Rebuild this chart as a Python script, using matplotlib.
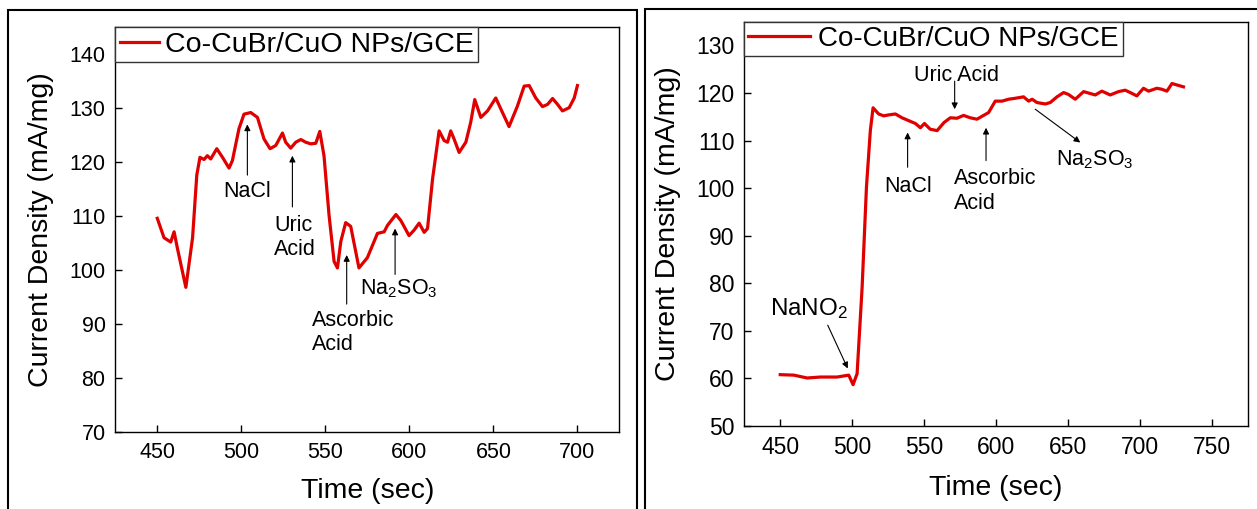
import matplotlib
matplotlib.use('Agg')
import matplotlib.pyplot as plt
from matplotlib.patches import Rectangle

plt.rcParams['font.family'] = ['Liberation Sans', 'DejaVu Sans']
plt.rcParams['mathtext.fontset'] = 'custom'
plt.rcParams['mathtext.rm'] = 'Liberation Sans'
plt.rcParams['mathtext.default'] = 'regular'

# Left panel: interference test (time in sec, current density in mA/mg)
left_t = [450, 454, 458, 460, 462, 467, 471, 473.5, 475.4, 477.8, 479.8, 481.8, 485.4, 488.8,
          492.7, 494.7, 498.6, 501.6, 505.6, 509.6, 513.5, 517.1, 520.5, 524.5, 526.4, 529.4,
          532.4, 535.4, 538.3, 541.3, 544.3, 546.7, 549.2, 552.2, 555.2, 557.2, 559.2, 562.1,
          565.1, 570, 575, 581, 585, 587, 592, 594.9, 599.8, 602.8, 605.8, 608.8, 610.8, 613.8,
          617.7, 620.7, 622.7, 624.6, 626.6, 629.6, 633.6, 636.5, 638.9, 642.5, 646.5, 651.4,
          655.4, 659.3, 664.3, 668.3, 671.3, 675.2, 679.2, 682.2, 685.2, 688.2, 691.1, 695.1,
          698.1, 700]
left_j = [109.6, 106, 105.2, 107.1, 104, 96.8, 106, 117.6, 120.9, 120.5, 121.2, 120.6, 122.5,
          120.9, 118.9, 120.3, 126.2, 128.9, 129.2, 128.3, 124.3, 122.5, 123.1, 125.4, 123.7,
          122.6, 123.7, 124.2, 123.7, 123.4, 123.5, 125.7, 121.2, 110.2, 101.6, 100.4, 105.3,
          108.8, 108.1, 100.4, 102.3, 106.8, 107.1, 108.3, 110.3, 109.2, 106.4, 107.4, 108.7,
          107, 107.7, 116.9, 125.8, 124, 123.7, 125.8, 124.3, 121.8, 123.7, 127.4, 131.6, 128.3,
          129.5, 131.9, 129.2, 126.6, 130.4, 134.1, 134.2, 131.9, 130.3, 130.7, 131.8, 130.7,
          129.5, 130.1, 131.9, 134.2]

# Right panel: NaNO2 addition followed by interferents
right_t = [450, 459.4, 468.7, 477.9, 489.5, 497.6, 500.6, 503.4, 506.9, 509.9, 512.6, 514.5,
           518.4, 521.9, 525.3, 530, 534.6, 539.2, 543.9, 547.4, 550.2, 554.2, 559, 563.8, 568.2,
           572.8, 577.4, 582, 586.7, 591.3, 594.8, 599.4, 604.1, 608.7, 613.3, 619.1, 622.6, 625,
           628.4, 634.2, 637.6, 642.3, 646.9, 650.3, 655, 660.8, 665.4, 668.9, 673.5, 679.3,
           685.1, 689.7, 693.2, 697.8, 702.4, 705.9, 711.7, 715.1, 718.7, 722.2, 725.6, 730.2]
right_j = [60.8, 60.7, 60.1, 60.3, 60.3, 60.7, 58.7, 61, 79.2, 100.2, 112.1, 116.9,
           115.6, 115.2, 115.4, 115.6, 114.8, 114.2, 113.6, 112.7, 113.6, 112.4, 112.1, 113.8,
           114.8, 114.7, 115.3, 114.8, 114.5, 115.3, 115.9, 118.3, 118.3, 118.7, 118.9, 119.2,
           118.3, 118.7, 118, 117.7, 118, 119.2, 120.1, 119.7, 118.7, 120.3, 119.9, 119.6, 120.4,
           119.6, 120.3, 120.6, 120.1, 119.4, 121, 120.4, 121, 120.8, 120.4, 122, 121.7, 121.3]

label = 'Co-CuBr/CuO NPs/GCE'
red = '#e00000'

fig = plt.figure(figsize=(12.57, 5.09), dpi=100)

# outer panel frames
fig.patches.append(Rectangle((8 / 1257, -0.1), 629 / 1257, 1.1 - 10 / 509, transform=fig.transFigure,
                             fill=False, ec='black', lw=1.5))
fig.patches.append(Rectangle((645 / 1257, -0.1), 0.5, 1.1 - 9 / 509, transform=fig.transFigure,
                             fill=False, ec='black', lw=1.5))

ax1 = fig.add_axes([0.0917, 0.1513, 0.4011, 0.7951])
ax2 = fig.add_axes([0.5921, 0.163, 0.4007, 0.7944])

ax1.plot(left_t, left_j, color=red, lw=2.3, label=label)
ax2.plot(right_t, right_j, color=red, lw=2.3, label=label)

ax1.set_xlim(425, 725)
ax1.set_ylim(70, 145)
ax1.set_xticks(range(450, 701, 50))
ax1.set_yticks(range(70, 141, 10))
ax2.set_xlim(425, 775)
ax2.set_ylim(50, 135)
ax2.set_xticks(range(450, 751, 50))
ax2.set_yticks(range(50, 131, 10))

for ax, fs, xpad in ((ax1, 15.5, 11), (ax2, 16.5, 12)):
    for s in ax.spines.values():
        s.set_linewidth(1.0)
    ax.tick_params(direction='in', length=5, width=1, labelsize=fs, pad=7)
    ax.set_xlabel('Time (sec)', fontsize=20.5, labelpad=xpad)
    ax.set_ylabel('Current Density (mA/mg)', fontsize=20.5, labelpad=11)

leg1 = ax1.legend(loc='upper left', fontsize=20.5, borderaxespad=0, borderpad=0.15,
                  handlelength=1.4, handletextpad=0.2, fancybox=False, framealpha=1)
leg1.get_frame().set_edgecolor('#333333')
leg2 = ax2.legend(loc='upper left', fontsize=20, borderaxespad=0, borderpad=0.15,
                  handlelength=2.2, handletextpad=0.3, fancybox=False, framealpha=1)
leg2.get_frame().set_edgecolor('#333333')

arrow = dict(arrowstyle='-|>', color='black', lw=0.8, mutation_scale=9, shrinkA=0, shrinkB=0)
fs_a = 15.5

# left annotations
ax1.annotate('', xy=(503.6, 127.0), xytext=(503.6, 117.6), arrowprops=arrow)
ax1.text(503.6, 114.5, 'NaCl', ha='center', va='center', fontsize=fs_a)
ax1.annotate('', xy=(530.4, 121.2), xytext=(530.4, 111.7), arrowprops=arrow)
ax1.text(519.5, 106.1, 'Uric\nAcid', ha='left', va='center', fontsize=fs_a, linespacing=1.2)
ax1.annotate('', xy=(562.7, 102.8), xytext=(562.7, 93.7), arrowprops=arrow)
ax1.text(542.2, 88.4, 'Ascorbic\nAcid', ha='left', va='center', fontsize=fs_a, linespacing=1.2)
ax1.annotate('', xy=(591.5, 107.7), xytext=(591.5, 99.2), arrowprops=arrow)
ax1.text(593.7, 96.5, 'Na$_2$SO$_3$', ha='center', va='center', fontsize=fs_a)

# right annotations
ax2.text(470.3, 74.7, 'NaNO$_2$', ha='center', va='center', fontsize=17.5)
ax2.annotate('', xy=(496.9, 62.1), xytext=(483, 71.2), arrowprops=arrow)
ax2.annotate('', xy=(538.5, 111.7), xytext=(538.5, 104.4), arrowprops=arrow)
ax2.text(539.2, 100.3, 'NaCl', ha='center', va='center', fontsize=fs_a)
ax2.text(572.8, 123.6, 'Uric Acid', ha='center', va='center', fontsize=fs_a)
ax2.annotate('', xy=(571.2, 116.6), xytext=(571.2, 122.5), arrowprops=arrow)
ax2.annotate('', xy=(593, 112.7), xytext=(593, 105.8), arrowprops=arrow)
ax2.text(570.5, 99.4, 'Ascorbic\nAcid', ha='left', va='center', fontsize=fs_a, linespacing=1.2)
ax2.annotate('', xy=(658.5, 109.6), xytext=(627.2, 116.6), arrowprops=arrow)
ax2.text(668.9, 105.9, 'Na$_2$SO$_3$', ha='center', va='center', fontsize=fs_a)

fig.savefig('out.png', dpi=100)
